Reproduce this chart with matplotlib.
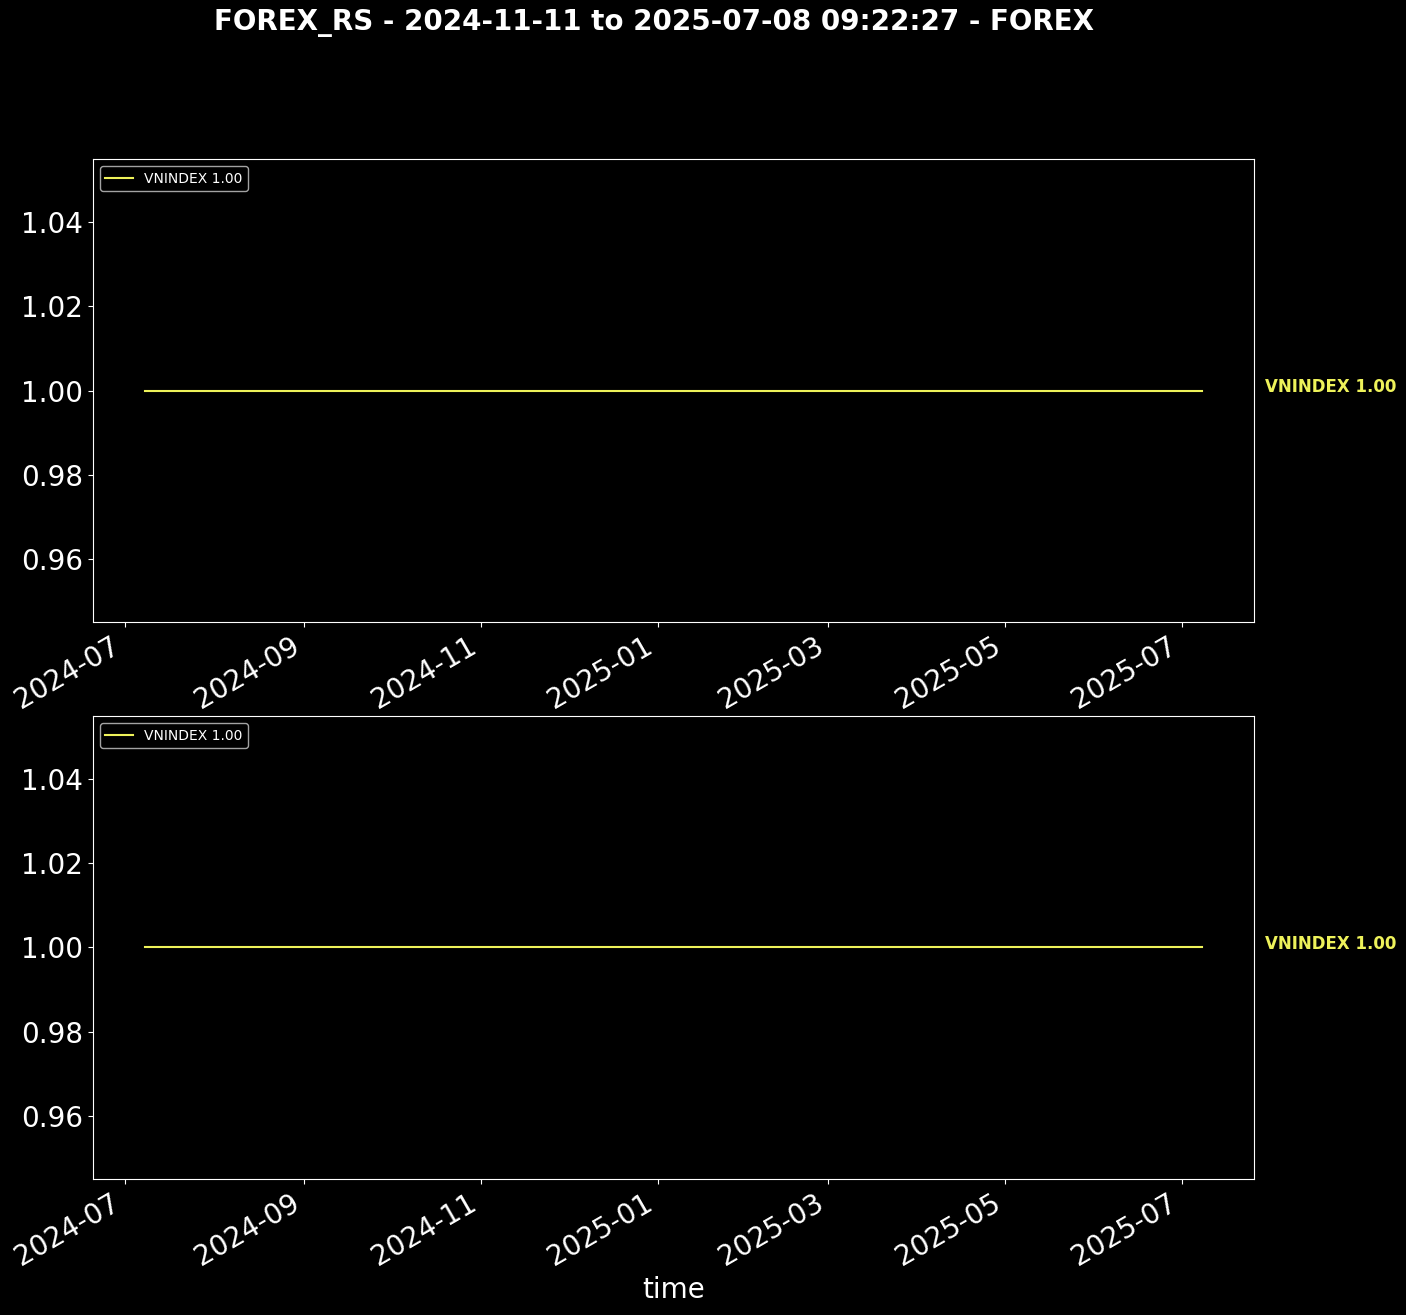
import pandas as pd
import matplotlib
matplotlib.use('Agg')
import matplotlib.pyplot as plt

# data
dates = pd.to_datetime(['2024-07-08', '2025-07-08'])
vnindex = [1.00, 1.00]
series_name = 'VNINDEX'
title = 'FOREX_RS - 2024-11-11 to 2025-07-08 09:22:27 - FOREX'

lineColor = '#eef25a'

plt.style.use('dark_background')
fig = plt.figure(figsize=(14.06, 13.15), dpi=100)

axPos = [[0.066, 0.527, 0.826, 0.352],
         [0.066, 0.1035, 0.826, 0.352]]

for i, pos in enumerate(axPos):
    ax = fig.add_axes(pos)
    lbl = f'{series_name} {vnindex[-1]:.2f}'
    ax.plot(dates, vnindex, color=lineColor, lw=1.5, label=lbl)
    ax.set_xlim(pd.Timestamp('2024-06-20'), pd.Timestamp('2025-07-26'))
    ax.legend(loc='upper left', fontsize=10)
    ax.tick_params(labelsize=20)
    ax.annotate(lbl, xy=(1.009, vnindex[-1]), xycoords=('axes fraction', 'data'),
                xytext=(0, 2.5), textcoords='offset points',
                color=lineColor, fontsize=12, fontweight='bold', va='center', ha='left')
    for lab in ax.get_xticklabels():
        lab.set_rotation(30)
        lab.set_ha('right')
    if i == 1:
        ax.set_xlabel('time', fontsize=20)

fig.suptitle(title, fontsize=20, fontweight='bold', x=0.465, y=0.993)
fig.savefig('out.png', dpi=100)
